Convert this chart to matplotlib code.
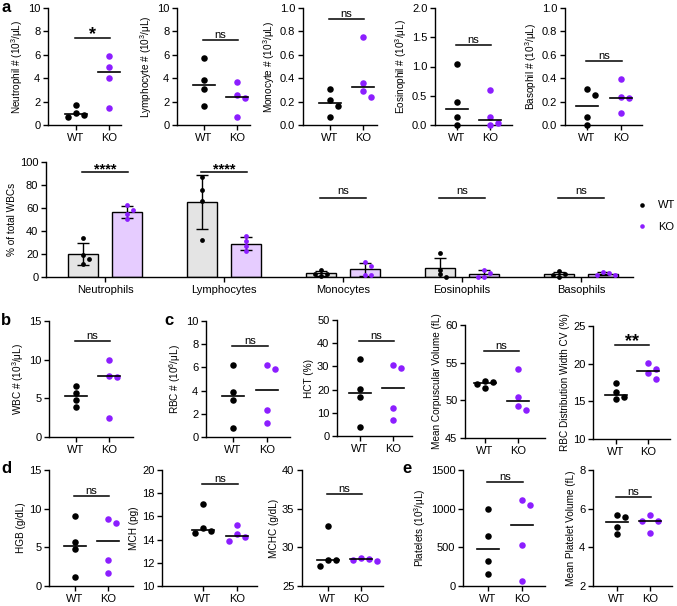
import numpy as np
import matplotlib.pyplot as plt
from matplotlib.lines import Line2D
from matplotlib.ticker import FormatStrFormatter

plt.rcParams['font.family'] = ['Liberation Sans', 'DejaVu Sans']
plt.rcParams['mathtext.fontset'] = 'custom'
plt.rcParams['mathtext.rm'] = 'Liberation Sans'
plt.rcParams['mathtext.default'] = 'regular'
plt.rcParams['axes.linewidth'] = 1.0

WT_COLOR = 'black'
KO_COLOR = '#8C1EFF'
WT_FILL = '#E4E4E4'
KO_FILL = '#E6CCFF'

groups = ['WT', 'KO']

# --- a: absolute counts
neut_wt = [0.65, 1.68, 1.05, 0.85]
neut_ko = [5.9, 5.0, 4.0, 1.45]
lymph_wt = [5.7, 3.85, 3.05, 1.6]
lymph_ko = [3.67, 2.56, 2.28, 0.71]
mono_wt = [0.31, 0.214, 0.16, 0.065]
mono_ko = [0.75, 0.356, 0.29, 0.24]
eos_wt = [1.05, 0.40, 0.14, 0.0]
eos_ko = [0.59, 0.13, 0.04, 0.0]
baso_wt = [0.31, 0.26, 0.066, 0.0]
baso_ko = [0.39, 0.24, 0.23, 0.10]

# --- a: % of total WBCs
cell_types = ['Neutrophils', 'Lymphocytes', 'Monocytes', 'Eosinophils', 'Basophils']
pct_wt = [[33.9, 18.8, 15.9, 11.6],
          [87.0, 76.0, 66.0, 31.9],
          [6.4, 0.8, 2.9, 2.8],
          [21.1, 6.4, 2.3, 0.0],
          [5.0, 3.0, 0.0, 1.8]]
pct_ko = [[58.6, 62.3, 50.7, 55.1],
          [35.9, 31.6, 26.7, 22.3],
          [13.0, 9.3, 2.1, 2.1],
          [6.5, 3.6, 0.2, 0.2],
          [2.0, 4.3, 2.0, 3.5]]
pct_sig = ['****', '****', 'ns', 'ns', 'ns']

# --- b, c, d, e
wbc_wt = [6.6, 5.7, 4.8, 3.9]
wbc_ko = [10.0, 7.9, 7.75, 2.5]
rbc_wt = [6.2, 3.85, 3.2, 0.74]
rbc_ko = [5.83, 6.23, 2.34, 1.2]
hct_wt = [33.0, 20.1, 17.0, 4.0]
hct_ko = [29.2, 30.6, 12.2, 6.9]
mcv_wt = [52.5, 52.6, 51.6, 52.2]
mcv_ko = [54.1, 50.5, 49.3, 48.7]
rdw_wt = [17.5, 16.2, 15.6, 15.3]
rdw_ko = [20.1, 19.3, 18.7, 17.9]
hgb_wt = [9.05, 5.73, 4.74, 1.2]
hgb_ko = [8.2, 8.6, 3.36, 1.72]
mch_wt = [17.1, 15.0, 14.6, 14.7]
mch_ko = [15.3, 14.45, 14.2, 13.9]
mchc_wt = [32.8, 28.4, 28.4, 27.6]
mchc_ko = [28.2, 28.5, 28.4, 28.6]
plt_wt = [999, 647, 321, 150]
plt_ko = [1050, 1106, 527, 69]
mpv_wt = [5.55, 5.67, 5.07, 4.67]
mpv_ko = [5.67, 5.36, 5.36, 4.76]

W, H = 677, 606
fig = plt.figure(figsize=(W / 100, H / 100), dpi=100)


def swarm(vals, px_per_y, step, gap):
    # simple beeswarm: spread points that sit too close vertically
    vals = np.asarray(vals, dtype=float)
    order = np.argsort(vals, kind='stable')[::-1]
    placed = []
    offs = np.zeros(len(vals))
    for i in order:
        y = vals[i] * px_per_y
        for k in [0, 1, -1, 2, -2, 3, -3]:
            x = k * step
            if all(abs(x - px) > 1e-6 or abs(y - py) >= gap for px, py in placed):
                break
        placed.append((x, y))
        offs[i] = x
    return offs


def style_axes(ax):
    ax.spines['top'].set_visible(False)
    ax.spines['right'].set_visible(False)
    ax.tick_params(axis='both', direction='out', length=3.5, width=1.0,
                   labelsize=8, pad=2)


def dot_panel(box, wt, ko, ylim, yticks, ylabel, sig, sig_y, fmt=None):
    L, T, R, B, x_wt, x_ko = box
    ax = fig.add_axes([L / W, 1 - B / H, (R - L) / W, (B - T) / H])
    s = x_ko - x_wt
    ax.set_xlim((L - x_wt) / s, (R - x_wt) / s)
    ax.set_ylim(*ylim)
    px_y = (B - T) / (ylim[1] - ylim[0])
    for i, (vals, col) in enumerate([(wt, WT_COLOR), (ko, KO_COLOR)]):
        vals = np.asarray(vals, dtype=float)
        offs = swarm(vals - ylim[0], px_y, 8.0, 6.5) / s
        ax.scatter(i + offs, vals, s=22, color=col, linewidths=0, zorder=3, clip_on=False)
        med = np.median(vals)
        ax.plot([i - 0.33, i + 0.33], [med, med], color='black', lw=1.2, zorder=4)
    ax.plot([-0.02, 1.02], [sig_y, sig_y], color='black', lw=1.1, clip_on=False)
    if 'ns' in sig:
        ax.text(0.5, sig_y, sig, ha='center', va='bottom', fontsize=8)
    else:
        ax.text(0.5, sig_y - (ylim[1] - ylim[0]) * 0.05, sig, ha='center', va='bottom',
                fontsize=13, fontweight='bold')
    ax.set_yticks(yticks)
    if fmt:
        ax.yaxis.set_major_formatter(FormatStrFormatter(fmt))
    ax.set_xticks([0, 1])
    ax.set_xticklabels(groups)
    ax.set_ylabel(ylabel, fontsize=7.2, labelpad=2)
    style_axes(ax)
    return ax


# row a
dot_panel((48, 8, 121, 125, 76, 109), neut_wt, neut_ko, (0, 10), range(0, 11, 2),
          r'Neutrophil # (10$^3$/μL)', '*', 7.46)
dot_panel((177, 8, 250, 125, 204, 237), lymph_wt, lymph_ko, (0, 10), range(0, 11, 2),
          r'Lymphocyte # (10$^3$/μL)', 'ns', 7.26)
dot_panel((303, 8, 377, 125, 330, 363), mono_wt, mono_ko, (0, 1.0), np.arange(0, 1.01, 0.2),
          r'Monocyte # (10$^3$/μL)', 'ns', 0.906, '%.1f')
dot_panel((435, 8, 512, 125, 457, 490), eos_wt, eos_ko, (0, 2.0), np.arange(0, 2.01, 0.5),
          r'Eosinophil # (10$^3$/μL)', 'ns', 1.36, '%.1f')
dot_panel((565, 8, 642, 125, 587, 621), baso_wt, baso_ko, (0, 1.0), np.arange(0, 1.01, 0.2),
          r'Basophil # (10$^3$/μL)', 'ns', 0.55, '%.1f')

# row a: percentages bar chart
L, T, R, B = 46, 162, 633, 277
axb = fig.add_axes([L / W, 1 - B / H, (R - L) / W, (B - T) / H])
unit = 119.0
axb.set_xlim((L - 105) / unit, (R - 105) / unit)
axb.set_ylim(0, 100)
x = np.arange(len(cell_types))
dx = 0.185
bw = 0.245
for vals_list, sign, fill, col in [(pct_wt, -1, WT_FILL, WT_COLOR), (pct_ko, 1, KO_FILL, KO_COLOR)]:
    means = np.array([np.mean(v) for v in vals_list])
    sds = np.array([np.std(v, ddof=1) for v in vals_list])
    xs = x + sign * dx
    axb.bar(xs, means, width=bw, color=fill, edgecolor='black', linewidth=1.0, zorder=1)
    axb.errorbar(xs, means, yerr=sds, fmt='none', ecolor='black', elinewidth=1.0,
                 capsize=4, capthick=1.0, zorder=2)
    for xi, v in zip(xs, vals_list):
        offs = swarm(v, (B - T) / 100.0, 6.0, 4.5) / unit
        axb.scatter(xi + offs, v, s=12, color=col, linewidths=0, zorder=3, clip_on=False)
for xi, sig in zip(x, pct_sig):
    if sig == 'ns':
        yy = 69
        axb.plot([xi - dx - 0.01, xi + dx + 0.01], [yy, yy], color='black', lw=1.1)
        axb.text(xi, yy + 1.5, sig, ha='center', va='bottom', fontsize=8)
    else:
        yy = 91.3
        axb.plot([xi - dx - 0.01, xi + dx + 0.01], [yy, yy], color='black', lw=1.1)
        axb.text(xi, yy - 3.5, sig, ha='center', va='bottom', fontsize=10.5, fontweight='bold')
axb.set_xticks(x)
axb.set_xticklabels(cell_types)
axb.set_yticks(range(0, 101, 20))
axb.set_ylabel('% of total WBCs', fontsize=7.2, labelpad=2)
style_axes(axb)
axb.tick_params(axis='x', labelsize=8)
handles = [Line2D([], [], ls='none', marker='o', ms=3.3, color=WT_COLOR, mec='none', label='WT'),
           Line2D([], [], ls='none', marker='o', ms=3.3, color=KO_COLOR, mec='none', label='KO')]
fig.legend(handles=handles, loc='center left', bbox_to_anchor=(636 / W, 1 - 216 / H),
           frameon=False, fontsize=8, handlelength=1.0, handletextpad=1.0,
           labelspacing=1.0, borderaxespad=0, borderpad=0)

# row b / c
dot_panel((49, 321, 133, 437, 76, 109), wbc_wt, wbc_ko, (0, 15), range(0, 16, 5),
          r'WBC # (10$^3$/μL)', 'ns', 12.4)
dot_panel((206, 321, 290, 437, 233, 267), rbc_wt, rbc_ko, (0, 10), range(0, 11, 2),
          r'RBC # (10$^6$/μL)', 'ns', 7.86)
dot_panel((337, 320, 412, 436, 360, 393), hct_wt, hct_ko, (0, 50), range(0, 51, 10),
          'HCT (%)', 'ns', 40.8)
dot_panel((465, 325, 545, 438, 485, 518), mcv_wt, mcv_ko, (45, 60), range(45, 61, 5),
          'Mean Corpuscular Volume (fL)', 'ns', 56.5)
dot_panel((593, 326, 670, 439, 616, 648), rdw_wt, rdw_ko, (10, 25), range(10, 26, 5),
          'RBC Distribution Width CV (%)', '**', 22.5)

# row d / e
dot_panel((49, 470, 133, 586, 75, 108), hgb_wt, hgb_ko, (0, 15), range(0, 16, 5),
          'HGB (g/dL)', 'ns', 11.6)
dot_panel((162, 470, 257, 586, 203, 237), mch_wt, mch_ko, (10, 20), range(10, 21, 2),
          'MCH (pg)', 'ns', 18.8)
dot_panel((302, 470, 383, 586, 328, 361), mchc_wt, mchc_ko, (25, 40), range(25, 41, 5),
          'MCHC (g/dL)', 'ns', 36.9)
dot_panel((463, 470, 545, 586, 488, 522), plt_wt, plt_ko, (0, 1500), range(0, 1501, 500),
          r'Platelets (10$^3$/μL)', 'ns', 1341)
dot_panel((593, 470, 672, 586, 617, 650), mpv_wt, mpv_ko, (2, 8), range(2, 9, 2),
          'Mean Platelet Volume (fL)', 'ns', 6.62)

# panel letters
for letter, px, py in [('a', 1, 0), ('b', 1, 313), ('c', 164, 313), ('d', 1, 461), ('e', 402, 461)]:
    fig.text(px / W, 1 - py / H, letter, fontsize=12, fontweight='bold', ha='left', va='top')

fig.savefig('out.png', dpi=100)
